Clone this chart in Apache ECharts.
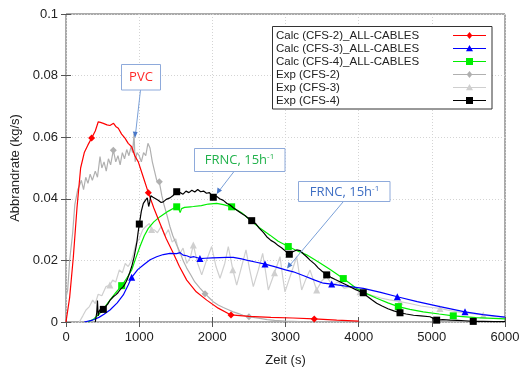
<!DOCTYPE html>
<html><head><meta charset="utf-8">
<script src="https://cdn.jsdelivr.net/npm/echarts@6/dist/echarts.min.js"></script>
<style>html,body{margin:0;padding:0;background:#fff}#c{width:519px;height:370px}</style>
</head><body><div id="c"></div>
<script>
const seriesNames = ['Calc (CFS-2)_ALL-CABLES','Calc (CFS-3)_ALL-CABLES','Calc (CFS-4)_ALL-CABLES','Exp (CFS-2)','Exp (CFS-3)','Exp (CFS-4)'];
const xTicks = [0,1000,2000,3000,4000,5000,6000];
const yTicks = [0,0.02,0.04,0.06,0.08,0.1];

const calcCFS2 = [[0,0],[50,0.008],[100,0.021],[150,0.037],[200,0.050],[250,0.055],[300,0.0575],[350,0.0597],[400,0.062],[441,0.065],[470,0.0648],[510,0.0645],[560,0.064],[600,0.0638],[624,0.064],[650,0.0645],[680,0.0635],[715,0.0629],[760,0.061],[806,0.0597],[850,0.058],[898,0.0569],[940,0.054],[988,0.052],[1050,0.0475],[1125,0.042],[1200,0.037],[1285,0.032],[1370,0.027],[1467,0.0223],[1550,0.018],[1650,0.0136],[1780,0.0098],[1923,0.0071],[2080,0.0045],[2255,0.0023],[2500,0.0018],[2800,0.0015],[3100,0.0013],[3393,0.001],[3700,0.0006],[4000,0.0003]];
const calcCFS3 = [[250,0],[350,0.0005],[450,0.0015],[520,0.0025],[601,0.0039],[700,0.0062],[783,0.0088],[850,0.012],[898,0.0145],[980,0.017],[1057,0.0185],[1150,0.0202],[1239,0.0212],[1330,0.0219],[1421,0.0223],[1512,0.0222],[1560,0.0225],[1600,0.0217],[1650,0.0215],[1700,0.021],[1750,0.0212],[1831,0.0206],[1900,0.0207],[2000,0.0208],[2100,0.0209],[2200,0.021],[2286,0.021],[2400,0.0205],[2500,0.0199],[2600,0.0194],[2720,0.0188],[2850,0.018],[3000,0.0169],[3107,0.0163],[3250,0.015],[3400,0.0136],[3517,0.0126],[3631,0.0123],[3800,0.0117],[4063,0.0109],[4300,0.0096],[4528,0.0082],[4800,0.0066],[5111,0.005],[5453,0.0033],[5700,0.0024],[6000,0.0016]];
const calcCFS4 = [[300,0],[380,0.001],[450,0.0025],[520,0.0045],[601,0.0071],[680,0.0095],[761,0.0118],[830,0.0142],[898,0.0169],[950,0.0205],[1011,0.0245],[1070,0.028],[1125,0.0304],[1200,0.0325],[1285,0.0342],[1400,0.036],[1490,0.0372],[1513,0.0374],[1540,0.0368],[1560,0.0355],[1580,0.0368],[1620,0.0372],[1700,0.0374],[1740,0.0375],[1850,0.0378],[1945,0.0383],[2059,0.0385],[2150,0.0381],[2264,0.0374],[2400,0.0355],[2515,0.0331],[2650,0.0305],[2788,0.0282],[2900,0.0262],[3038,0.0245],[3150,0.0232],[3289,0.0218],[3450,0.0195],[3600,0.0172],[3790,0.0141],[3973,0.0109],[4100,0.0093],[4246,0.0077],[4400,0.0062],[4542,0.005],[4700,0.0041],[4883,0.0033],[5100,0.0026],[5293,0.002],[5600,0.0014],[6000,0.001]];
const expCFS2 = [[0,0.008],[23,0.0104],[50,0.02],[91,0.0289],[120,0.038],[160,0.043],[180,0.044],[210,0.046],[240,0.043],[270,0.047],[300,0.045],[330,0.048],[360,0.046],[400,0.049],[430,0.047],[465,0.0537],[490,0.05],[520,0.052],[550,0.049],[580,0.053],[610,0.051],[647,0.0558],[680,0.052],[710,0.054],[740,0.051],[770,0.055],[800,0.053],[830,0.056],[860,0.054],[890,0.057],[910,0.055],[930,0.061],[945,0.052],[970,0.055],[1000,0.054],[1030,0.052],[1060,0.055],[1090,0.054],[1120,0.058],[1148,0.0565],[1180,0.052],[1210,0.049],[1240,0.046],[1275,0.0455],[1310,0.041],[1340,0.038],[1376,0.035],[1420,0.031],[1460,0.028],[1513,0.025],[1560,0.0225],[1600,0.02],[1650,0.0175],[1700,0.0155],[1760,0.013],[1831,0.011],[1900,0.0092],[1960,0.0078],[2012,0.0066],[2080,0.0055],[2150,0.0047],[2220,0.004],[2285,0.0033],[2350,0.0028],[2420,0.0022],[2500,0.0017],[2580,0.0014],[2651,0.0012],[2750,0.0008],[2850,0.0005],[3000,0.0003],[3200,0.0001]];
const expCFS3 = [[182,0],[230,0.002],[273,0.0039],[320,0.005],[365,0.0071],[400,0.006],[440,0.009],[490,0.0085],[547,0.0115],[600,0.012],[638,0.0136],[680,0.013],[729,0.0169],[770,0.016],[810,0.019],[850,0.018],[888,0.0196],[920,0.022],[957,0.0256],[1000,0.027],[1048,0.0299],[1090,0.031],[1139,0.032],[1170,0.030],[1207,0.0299],[1250,0.029],[1300,0.031],[1350,0.028],[1400,0.030],[1450,0.026],[1500,0.027],[1550,0.022],[1600,0.024],[1650,0.019],[1700,0.021],[1740,0.025],[1800,0.019],[1855,0.0153],[1920,0.02],[1991,0.0245],[2050,0.018],[2105,0.0142],[2170,0.019],[2218,0.0245],[2280,0.017],[2333,0.012],[2400,0.018],[2460,0.0234],[2510,0.017],[2560,0.0115],[2630,0.017],[2688,0.0223],[2730,0.016],[2765,0.0104],[2850,0.016],[2925,0.0212],[2960,0.015],[2993,0.0098],[3080,0.016],[3153,0.0212],[3221,0.0104],[3280,0.014],[3335,0.0169],[3426,0.0104],[3500,0.0135],[3563,0.0147],[3640,0.012],[3720,0.013],[3800,0.011],[3927,0.0115],[4018,0.0098],[4100,0.0092],[4200,0.0085],[4300,0.0078],[4420,0.0072],[4565,0.0066],[4700,0.006],[4850,0.0052],[5000,0.0047],[5111,0.0044],[5250,0.0037],[5400,0.0031],[5550,0.0027],[5703,0.0023],[5850,0.0018],[6000,0.0015]];
const expCFS4 = [[400,0],[420,0.003],[430,0.007],[440,0.002],[460,0.004],[480,0.003],[510,0.0041],[540,0.005],[570,0.0058],[600,0.007],[620,0.0068],[647,0.0082],[680,0.0088],[710,0.0095],[740,0.0105],[760,0.011],[783,0.0115],[810,0.0125],[840,0.014],[870,0.016],[898,0.018],[930,0.021],[966,0.0255],[985,0.029],[1002,0.0318],[1030,0.036],[1057,0.0385],[1085,0.0395],[1111,0.0403],[1130,0.0375],[1145,0.039],[1160,0.041],[1190,0.0405],[1225,0.040],[1260,0.0395],[1300,0.0388],[1330,0.039],[1370,0.0398],[1421,0.0403],[1460,0.041],[1513,0.0423],[1560,0.042],[1600,0.0415],[1640,0.0425],[1680,0.042],[1720,0.0428],[1760,0.0422],[1800,0.043],[1840,0.0423],[1880,0.0425],[1920,0.0418],[1960,0.042],[2013,0.0405],[2060,0.0408],[2100,0.040],[2150,0.0395],[2200,0.0385],[2241,0.038],[2290,0.037],[2340,0.0362],[2400,0.0352],[2450,0.0345],[2500,0.0335],[2538,0.0329],[2590,0.032],[2640,0.0305],[2700,0.029],[2743,0.0277],[2800,0.0265],[2850,0.0258],[2900,0.0248],[2950,0.024],[3000,0.023],[3052,0.022],[3100,0.0228],[3153,0.0234],[3200,0.0232],[3250,0.022],[3289,0.0212],[3335,0.0201],[3400,0.0188],[3450,0.0175],[3500,0.0165],[3563,0.0153],[3620,0.0145],[3680,0.0138],[3750,0.013],[3836,0.012],[3900,0.0112],[3960,0.0105],[4010,0.01],[4063,0.0095],[4120,0.0083],[4180,0.0072],[4246,0.0061],[4320,0.0052],[4400,0.0043],[4480,0.0036],[4565,0.003],[4650,0.0026],[4750,0.0022],[4850,0.002],[4975,0.0017],[5066,0.0006],[5150,0.0008],[5250,0.0006],[5350,0.0005],[5450,0.0004],[5566,0.0002],[5700,0.0002],[5850,0.0001],[6000,0.0001]];

const marksCalc2 = [350,1125,2255,3393];
const marksCalc3 = [898,1831,2720,3631,4528,5453];
const marksCalc4 = [761,1513,2264,3038,3790,4542,5293];
const marksExp2 = [647,1275,1900,2500];
const marksExp3 = [600,1170,1740,2280,2850,3426,4018,4565,5111,5703];
const marksExp4 = [510,1002,1513,2013,2538,3052,3563,4063,4565,5066,5566];

const colors = ['#ff0000', '#0000ff', '#00ee00', '#b0b0b0', '#cfcfcf', '#000000'];
const symbols = ['diamond', 'triangle', 'rect', 'diamond', 'triangle', 'rect'];

function mk(i, data, marks, z) {
  const color = colors[i];
  return {
    name: seriesNames[i], type: 'line', z,
    data: data.map(p => marks.includes(p[0]) ? {value: p} : {value: p, symbol: 'none'}),
    symbol: symbols[i], symbolSize: 7, showSymbol: true, showAllSymbol: true,
    lineStyle: {color, width: 1.2}, itemStyle: {color, borderWidth: 0},
    emphasis: {disabled: true}, animation: false
  };
}

const font = '"Liberation Sans", Arial, sans-serif';
const annFont = '"Open Sans", "Noto Sans", sans-serif';

// legend drawn as graphic (text left, sample on right)
function legendGraphic() {
  const els = [{type: 'rect', z: 100, shape: {x: 272.5, y: 26.5, width: 219.5, height: 82.5}, style: {fill: '#fff', stroke: '#333', lineWidth: 1}}];
  seriesNames.forEach((n, i) => {
    const cy = 35.5 + i * 13;
    els.push({type: 'text', z: 101, x: 276, y: cy, style: {text: n, fill: '#222', font: '11.5px ' + font, verticalAlign: 'middle', align: 'left'}});
    els.push({type: 'line', z: 101, shape: {x1: 453, y1: cy, x2: 486, y2: cy}, style: {stroke: colors[i], lineWidth: 1.2}});
    const cx = 469.5, s = 3.5;
    if (symbols[i] === 'diamond') els.push({type: 'polygon', z: 102, shape: {points: [[cx, cy - s], [cx + s * 0.8, cy], [cx, cy + s], [cx - s * 0.8, cy]]}, style: {fill: colors[i]}});
    else if (symbols[i] === 'triangle') els.push({type: 'polygon', z: 102, shape: {points: [[cx, cy - s], [cx + s, cy + s * 0.8], [cx - s, cy + s * 0.8]]}, style: {fill: colors[i]}});
    else els.push({type: 'rect', z: 102, shape: {x: cx - s, y: cy - s, width: 2 * s, height: 2 * s}, style: {fill: colors[i]}});
  });
  return els;
}

const chart = echarts.init(document.getElementById('c'), null, {renderer: 'canvas'});
chart.setOption({
  animation: false,
  grid: {left: 66, right: 14, top: 14, bottom: 48, show: true, borderColor: '#555', borderWidth: 1, containLabel: false, outerBoundsMode: 'none'},
  xAxis: [{
    type: 'value', min: xTicks[0], max: xTicks[xTicks.length - 1], interval: 1000,
    name: 'Zeit (s)', nameLocation: 'middle', nameGap: 32,
    nameTextStyle: {fontFamily: font, fontSize: 13, color: '#222'},
    axisLine: {show: false}, axisTick: {inside: true, length: 5, lineStyle: {color: '#555'}},
    axisLabel: {fontFamily: font, fontSize: 13, color: '#222', margin: 9, formatter: v => String(v)},
    splitLine: {show: true, lineStyle: {color: '#d4d4d4', type: [1, 2]}}
  }, {
    type: 'value', position: 'top', min: 0, max: 6000, interval: 1000,
    axisLine: {show: false}, axisTick: {inside: true, length: 5, lineStyle: {color: '#555'}},
    axisLabel: {show: false}, splitLine: {show: false}
  }],
  yAxis: [{
    type: 'value', min: yTicks[0], max: yTicks[yTicks.length - 1], interval: 0.02,
    name: 'Abbrandrate (kg/s)', nameLocation: 'middle', nameGap: 43,
    nameTextStyle: {fontFamily: font, fontSize: 13, color: '#222'},
    axisLine: {show: false}, axisTick: {inside: true, length: 5, lineStyle: {color: '#555'}},
    axisLabel: {fontFamily: font, fontSize: 13, color: '#222', margin: 8, formatter: v => String(+v.toFixed(2))},
    splitLine: {show: true, lineStyle: {color: '#d4d4d4', type: [1, 2]}}
  }, {
    type: 'value', position: 'right', min: 0, max: 0.1, interval: 0.02,
    axisLine: {show: false}, axisTick: {inside: true, length: 5, lineStyle: {color: '#555'}},
    axisLabel: {show: false}, splitLine: {show: false}
  }],
  series: [
    mk(0, calcCFS2, marksCalc2, 5),
    mk(1, calcCFS3, marksCalc3, 5),
    mk(2, calcCFS4, marksCalc4, 4),
    mk(3, expCFS2, marksExp2, 3),
    mk(4, expCFS3, marksExp3, 2),
    mk(5, expCFS4, marksExp4, 6)
  ],
  graphic: legendGraphic().concat([
    {type: 'line', z: 100, shape: {x1: 140.5, y1: 90, x2: 135.5, y2: 134}, style: {stroke: '#7aa0d8', lineWidth: 1}},
    {type: 'polygon', z: 100, shape: {points: [[135, 138], [132.8, 131.5], [137.6, 132]]}, style: {fill: '#4a78c8'}},
    {type: 'rect', z: 100, shape: {x: 121.5, y: 64.5, width: 39, height: 25.5}, style: {fill: '#fff', stroke: '#8eaadb', lineWidth: 1}},
    {type: 'text', z: 101, x: 141, y: 77.5, style: {text: 'PVC', fill: '#ff2a2a', font: '13px ' + annFont, align: 'center', verticalAlign: 'middle'}},

    {type: 'line', z: 100, shape: {x1: 234, y1: 171.5, x2: 219, y2: 191}, style: {stroke: '#7aa0d8', lineWidth: 1}},
    {type: 'polygon', z: 100, shape: {points: [[216.8, 194], [217.5, 187.5], [222, 190.5]]}, style: {fill: '#4a78c8'}},
    {type: 'rect', z: 100, shape: {x: 194.5, y: 148.5, width: 90.5, height: 23}, style: {fill: '#fff', stroke: '#8eaadb', lineWidth: 1}},
    {type: 'text', z: 101, x: 239.5, y: 160.5, style: {text: '{a|FRNC, 15h}{s|-1}', align: 'center', verticalAlign: 'middle',
      rich: {a: {fill: '#22b24c', font: '13px ' + annFont}, s: {fill: '#22b24c', font: '8px ' + annFont, padding: [0, 0, 7, 0]}}}},

    {type: 'line', z: 100, shape: {x1: 343, y1: 202, x2: 290, y2: 265}, style: {stroke: '#7aa0d8', lineWidth: 1}},
    {type: 'polygon', z: 100, shape: {points: [[287, 268.5], [288.5, 262], [292.5, 265.5]]}, style: {fill: '#4a78c8'}},
    {type: 'rect', z: 100, shape: {x: 298.5, y: 181.5, width: 91.5, height: 20}, style: {fill: '#fff', stroke: '#8eaadb', lineWidth: 1}},
    {type: 'text', z: 101, x: 344.5, y: 192, style: {text: '{a|FRNC, 15h}{s|-1}', align: 'center', verticalAlign: 'middle',
      rich: {a: {fill: '#3f6fc4', font: '13px ' + annFont}, s: {fill: '#3f6fc4', font: '8px ' + annFont, padding: [0, 0, 7, 0]}}}}
  ])
});
</script></body></html>
